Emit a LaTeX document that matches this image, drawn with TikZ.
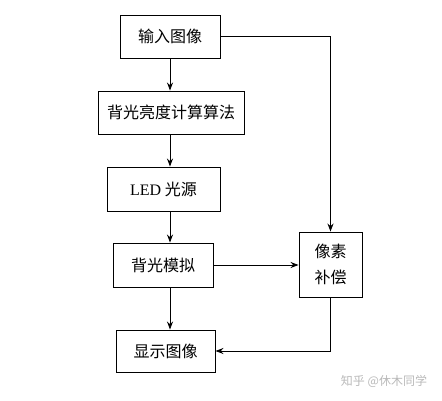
\documentclass[tikz,border=0pt]{standalone}
\usepackage{fontspec}
\setmainfont{Liberation Serif}
\newfontfamily\cjk{Noto Sans CJK SC}
\usetikzlibrary{arrows.meta}
\tikzset{>={Stealth[length=8pt,width=6pt]}}
\tikzset{stepbox/.style={draw, line width=0.9pt, inner sep=0pt, align=center,
  font=\cjk\fontsize{16}{26}\selectfont}}

\begin{document}
\begin{tikzpicture}[x=1pt,y=-1pt,line width=0.9pt]
\useasboundingbox (0,0) rectangle (442,401);
\coordinate (axis) at (170,0);
\node[stepbox, minimum width=100pt, minimum height=43pt] (input) at (170,36.5) {输入图像};
\node[stepbox, minimum width=146pt, minimum height=43pt] (algo) at (171,112.5) {背光亮度计算算法};
\node[stepbox, minimum width=113pt, minimum height=44pt] (led) at (163.5,189) {{\rmfamily LED} 光源};
\node[stepbox, minimum width=100pt, minimum height=44pt] (sim) at (163,265) {背光模拟};
\node[stepbox, minimum width=99pt, minimum height=42pt] (show) at (165.5,351) {显示图像};
\node[stepbox, minimum width=63pt, minimum height=65pt] (comp) at (330.5,264.5) {像素\\补偿};
\node[text=gray!55, font=\cjk\fontsize{12}{14}\selectfont] (mark) at (384,381) {知乎 @休木同学};
% flow
\draw[->] (axis |- input.south) -- (axis |- algo.north);
\draw[->] (axis |- algo.south) -- (axis |- led.north);
\draw[->] (axis |- led.south) -- (axis |- sim.north);
\draw[->] (axis |- sim.south) -- (axis |- show.north);
\draw[->] (input.east) -| (comp.north);
\draw[->] (sim.east) -- (sim.east -| comp.west);
\draw[->] (comp.south) |- (show.east);
\end{tikzpicture}
\end{document}
